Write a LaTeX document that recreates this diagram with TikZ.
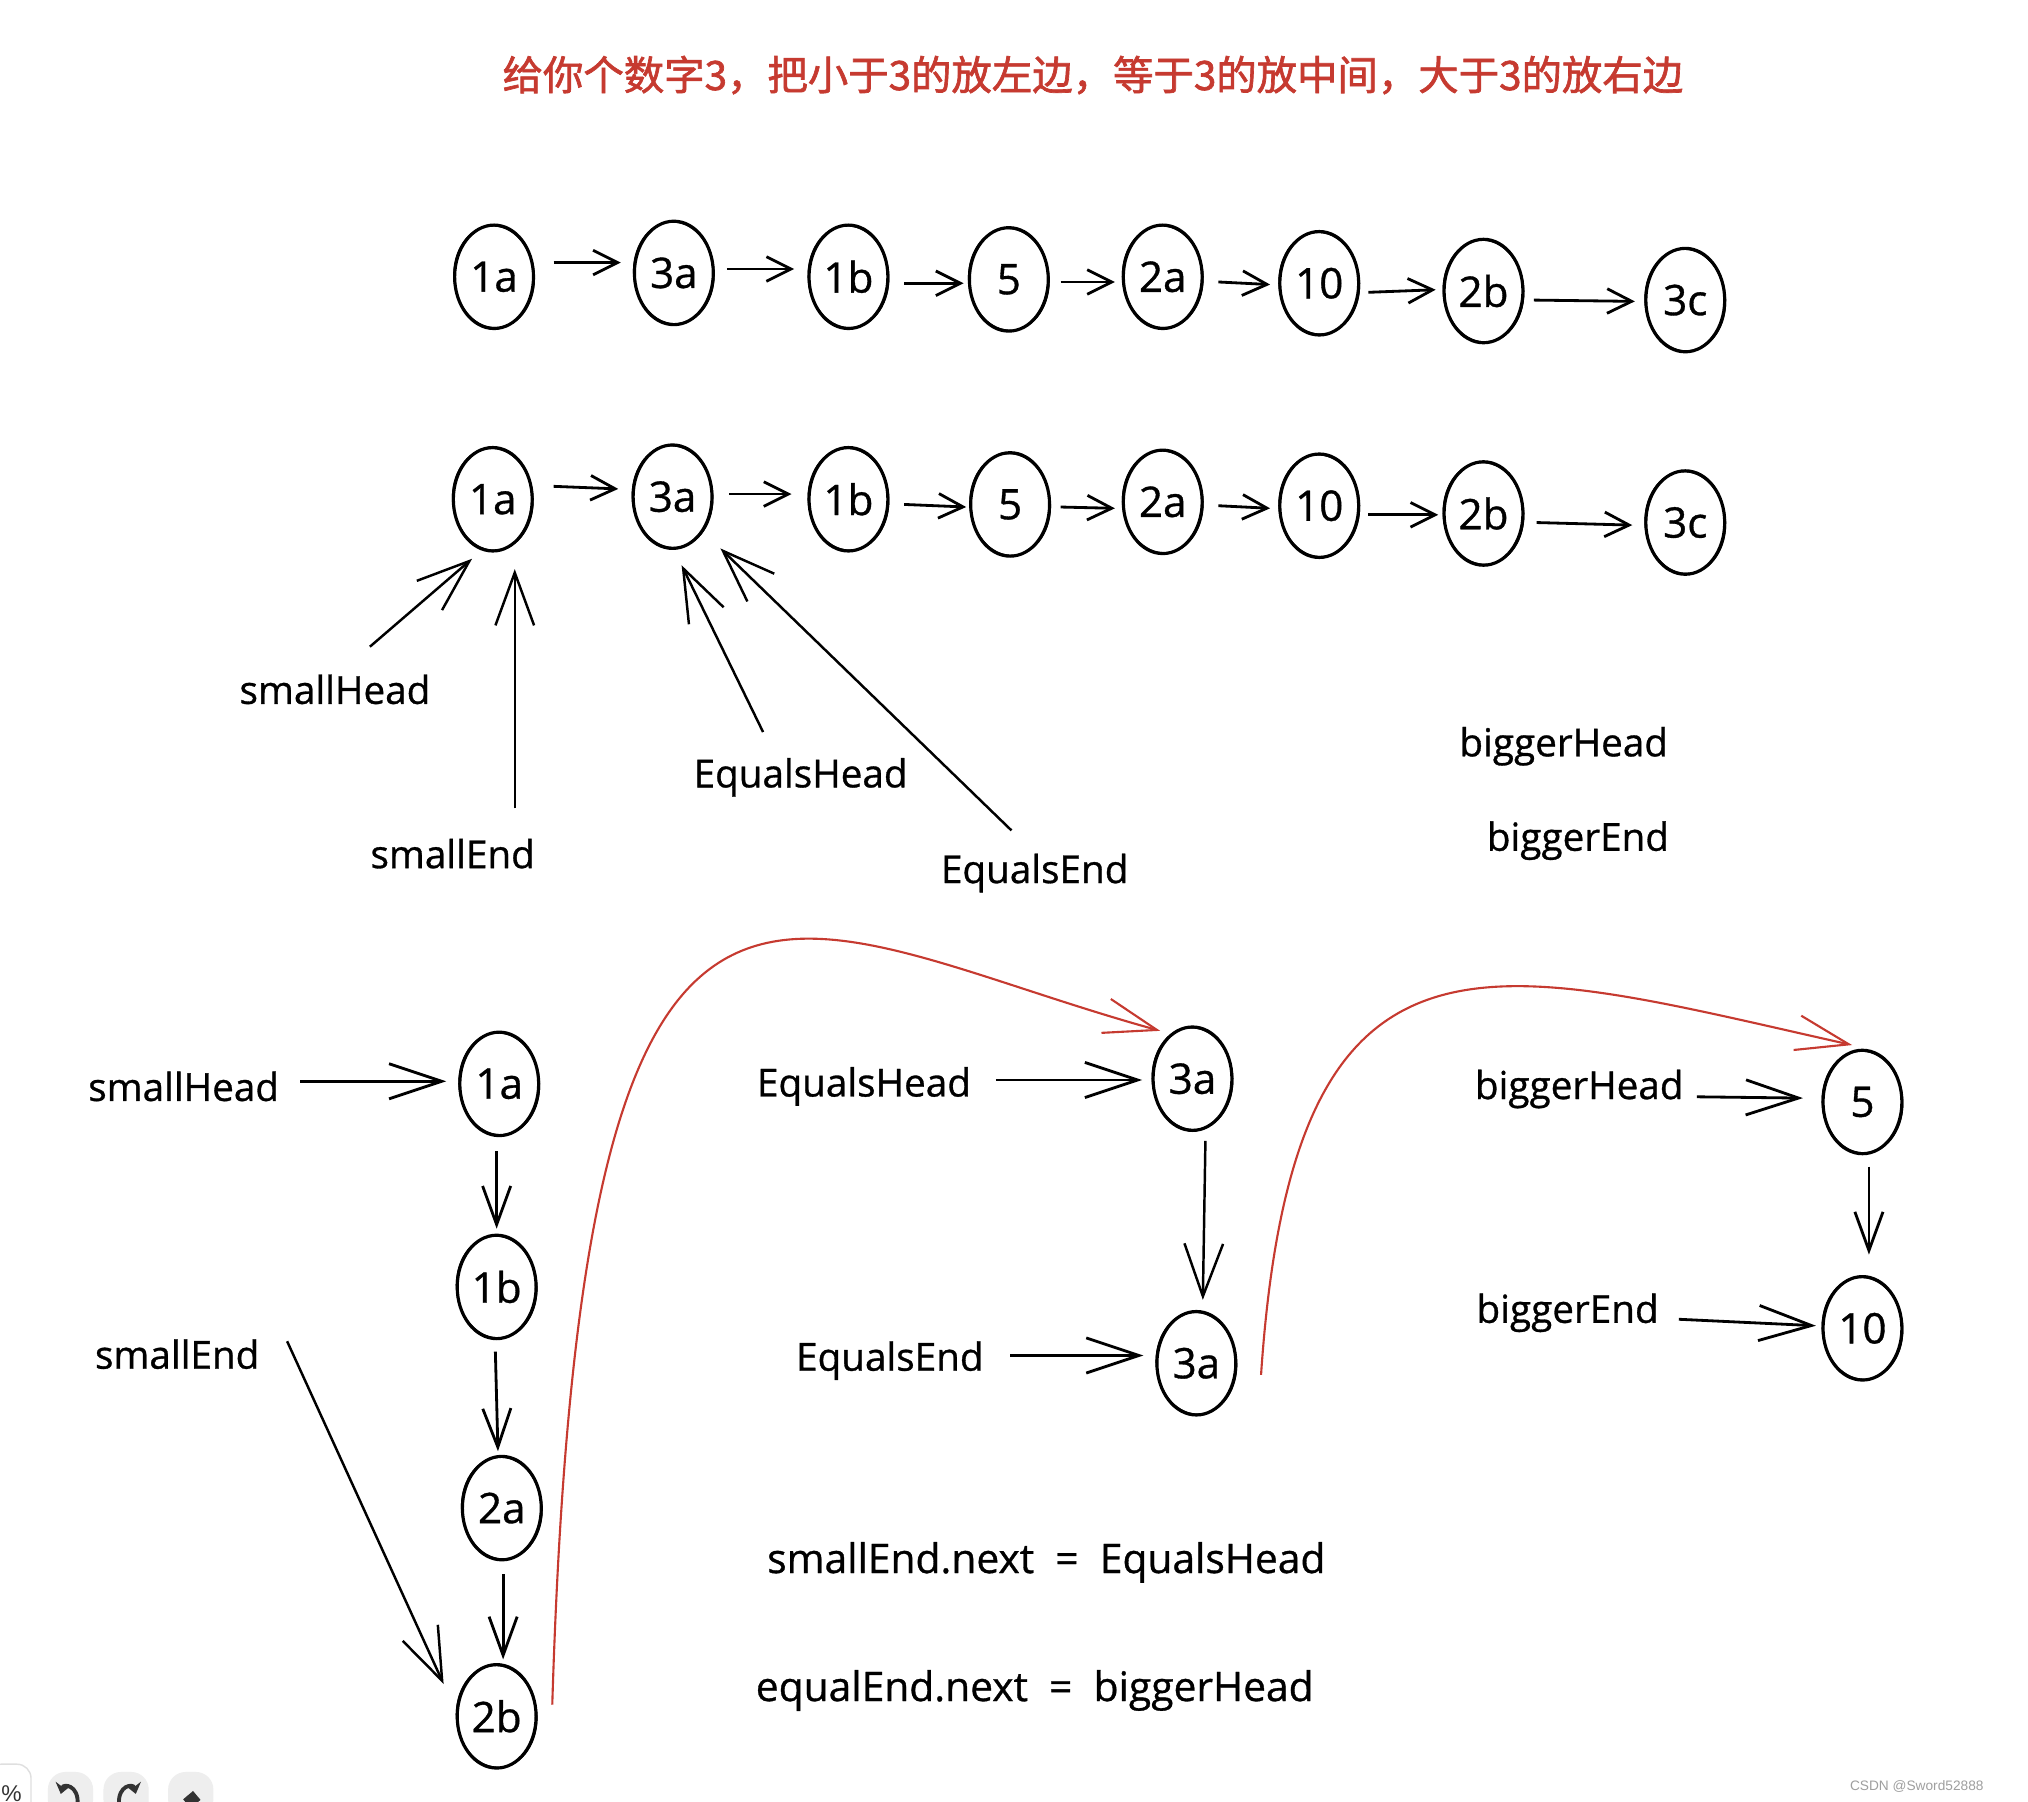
\documentclass[tikz,border=0pt]{standalone}
\usepackage{fontspec}
\setmainfont{Open Sans}
\newfontfamily\hand{Open Sans}[FakeBold=0.8]
\newfontfamily\cjk{Noto Sans CJK SC}[FakeBold=1.6]
\newfontfamily\wmfont{Liberation Sans}
\usetikzlibrary{shapes.geometric,arrows.meta,calc}
\definecolor{xred}{HTML}{C63A30}
\begin{document}
\begin{tikzpicture}[x=0.012934cm,y=-0.012934cm,
  nd/.style={ellipse,draw,line width=0.9pt,minimum width=0.789cm,minimum height=1.035cm,inner sep=0pt,font=\hand\fontsize{12}{14}\selectfont},
  sk/.style={line width=0.45pt},
  lbl/.style={font=\hand\fontsize{11}{13}\selectfont,inner sep=0pt},
  eqlbl/.style={font=\hand\fontsize{11.6}{14}\selectfont,inner sep=0pt},
  lk/.style={line width=0.8pt,-{Straight Barb[length=7pt,width=7pt]}},
  ptr/.style={line width=0.7pt,-{Straight Barb[length=15pt,width=11pt]}},
  dn/.style={line width=0.8pt,-{Straight Barb[length=11pt,width=8pt]}},
  hz/.style={line width=0.8pt,-{Straight Barb[length=15pt,width=10pt]}},
  rd/.style={xred,line width=0.6pt,-{Straight Barb[length=15pt,width=10pt]}},
  icon/.style={line width=1.1pt,black!80}
]
\useasboundingbox[fill=white] (0,0) rectangle (1568,1393);

% title
\node[font=\cjk\fontsize{11.5}{14}\selectfont,text=xred] (title) at (845,58) {给你个数字3，把小于3的放左边，等于3的放中间，大于3的放右边};

% row 1
\foreach \n/\x/\y/\t in {a1/382/214/1a,a2/521/211/3a,a3/656/214/1b,a4/780/216/5,a5/899/214/2a,a6/1020/219/10,a7/1147/225/2b,a8/1303/232/3c}
  \node[nd] (\n) at (\x,\y) {\t};
% row 2
\foreach \n/\x/\y/\t in {b1/381/386/1a,b2/520/384/3a,b3/656/386/1b,b4/781/390/5,b5/899/388/2a,b6/1020/391/10,b7/1147/397/2b,b8/1303/404/3c}
  \node[nd] (\n) at (\x,\y) {\t};
% bottom
\foreach \n/\x/\y/\t in {c1/386/838/1a,c2/384/995/1b,c3/388/1166/2a,c4/384/1327/2b,d1/922/834/3a,d2/925/1054/3a,e1/1440/852/5,e2/1440/1027/10}
  \node[nd] (\n) at (\x,\y) {\t};

% sketchy second strokes
\foreach \n in {a1,a2,a3,a4,a5,a6,a7,a8,b1,b2,b3,b4,b5,b6,b7,b8,c1,c2,c3,c4,d1,d2,e1,e2}
  \draw[sk] (\n.center) ellipse [x radius=31,y radius=39.5,rotate=4];

% row 1 links
\draw[lk] ($(a1)+(46,-11)$) -- ($(a2)+(-41,-8)$);
\draw[lk] ($(a2)+(41,-3)$) -- ($(a3)+(-42,-6)$);
\draw[lk] ($(a3)+(43,5)$) -- ($(a4)+(-35,3)$);
\draw[lk] ($(a4)+(40,2)$) -- ($(a5)+(-37,4)$);
\draw[lk] ($(a5)+(43,4)$) -- ($(a6)+(-38,1)$);
\draw[lk] ($(a6)+(38,7)$) -- ($(a7)+(-37,-1)$);
\draw[lk] ($(a7)+(39,7)$) -- ($(a8)+(-39,1)$);
% row 2 links
\draw[lk] ($(b1)+(47,-10)$) -- ($(b2)+(-42,-6)$);
\draw[lk] ($(b2)+(44,-2)$) -- ($(b3)+(-44,-4)$);
\draw[lk] ($(b3)+(43,4)$) -- ($(b4)+(-34,2)$);
\draw[lk] ($(b4)+(39,2)$) -- ($(b5)+(-37,5)$);
\draw[lk] ($(b5)+(43,3)$) -- ($(b6)+(-38,2)$);
\draw[lk] ($(b6)+(38,7)$) -- ($(b7)+(-35,1)$);
\draw[lk] ($(b7)+(41,7)$) -- ($(b8)+(-41,2)$);

% row 2 labels
\node[lbl] (sH2) at (259,533) {smallHead};
\node[lbl] (sE2) at (350,660) {smallEnd};
\node[lbl] (eH2) at (619,601) {EqualsHead};
\node[lbl] (eE2) at (800,675) {EqualsEnd};
\node[lbl] (bH2) at (1209,577) {biggerHead};
\node[lbl] (bE2) at (1220,650) {biggerEnd};

\draw[ptr] ($(sH2)+(27,-33)$) -- ($(b1)+(-16,46)$);
\draw[ptr] ($(sE2)+(48,-35)$) -- ($(b1)+(17,54)$);
\draw[ptr] ($(eH2)+(-29,-35)$) -- ($(b2)+(7,53)$);
\draw[ptr] ($(eE2)+(-18,-33)$) -- ($(b2)+(37,40)$);

% bottom labels
\node[lbl] (sH3) at (142,840) {smallHead};
\node[lbl] (sE3) at (137,1047) {smallEnd};
\node[lbl] (eH3) at (668,840) {EqualsHead};
\node[lbl] (eE3) at (688,1052) {EqualsEnd};
\node[lbl] (bH3) at (1221,842) {biggerHead};
\node[lbl] (bE3) at (1212,1015) {biggerEnd};
\node[eqlbl] (eq1) at (809,1208) {smallEnd.next\ \ =\ \ EqualsHead};
\node[eqlbl] (eq2) at (800,1307) {equalEnd.next\ \ =\ \ biggerHead};

% bottom arrows
\draw[hz] ($(sH3)+(90,-4)$) -- ($(c1)+(-41,-2)$);
\draw[dn] ($(c1)+(-2,52)$) -- ($(c2)+(0,-45)$);
\draw[dn] ($(c2)+(-1,50)$) -- ($(c3)+(-3,-44)$);
\draw[dn] ($(c3)+(1,51)$) -- ($(c4)+(5,-44)$);
\draw[ptr] ($(sE3)+(85,-10)$) -- ($(c4)+(-41,-25)$);
\draw[hz] ($(eH3)+(102,-5)$) -- ($(d1)+(-39,1)$);
\draw[ptr] ($(d1)+(10,48)$) -- ($(d2)+(5,-49)$);
\draw[hz] ($(eE3)+(93,-4)$) -- ($(d2)+(-41,-6)$);
\draw[hz] ($(bH3)+(91,6)$) -- ($(e1)+(-46,-3)$);
\draw[dn] ($(e1)+(5,50)$) -- ($(e2)+(5,-57)$);
\draw[hz] ($(bE3)+(86,5)$) -- ($(e2)+(-36,-2)$);

% red connections
\draw[rd] ($(c4)+(43,-9)$) .. controls (450,560) and (600,715) .. ($(d1)+(-25,-37)$);
\draw[rd] ($(d2)+(50,9)$) .. controls (1000,690) and (1150,745) .. ($(e1)+(-8,-44)$);

% watermark
\node[font=\wmfont\fontsize{3.9}{5}\selectfont,text=gray!75,inner sep=0pt] (wm) at (1482,1381) {CSDN @Sword52888};

% toolbar remnants
\draw[gray!25,fill=white,rounded corners=4] (-10,1364) rectangle (24,1405);
\node[font=\wmfont\fontsize{6.5}{8}\selectfont,text=black!80,inner sep=0pt] (pct) at (9,1387) {\%};
\foreach \xa in {37,80,130}
  \fill[gray!13,rounded corners=5] (\xa,1370) rectangle ++(35,35);
\draw[icon,{Stealth[length=3pt,width=4.5pt]}-] (47,1387) .. controls (49,1379) and (61,1380) .. (60,1395);
\draw[icon,{Stealth[length=3pt,width=4.5pt]}-] (105,1387) .. controls (103,1379) and (91,1380) .. (92,1395);
\fill[black!80,rotate around={40:(148,1391)}] (143,1387) rectangle (153,1396);
\end{tikzpicture}
\end{document}
